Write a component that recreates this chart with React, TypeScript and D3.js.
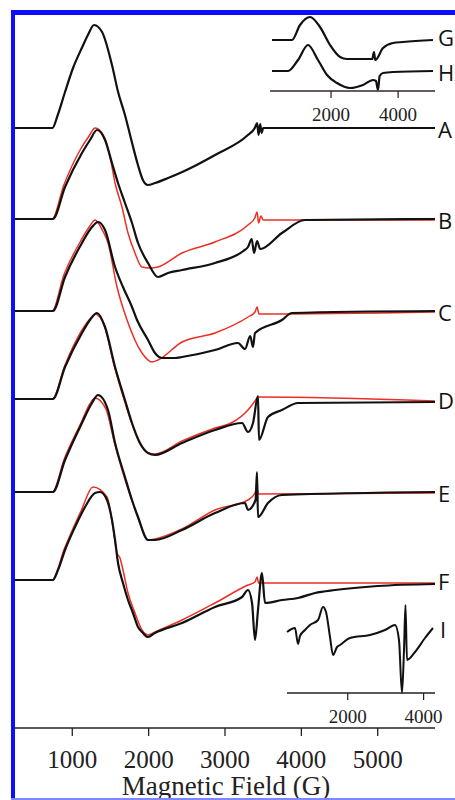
import React from 'react';
import * as d3 from 'd3';

type P = [number, number];

// ---------- axis ticks ----------
const mainTicks = [1000, 2000, 3000, 4000, 5000];
const insetTopTicks = [2000, 4000];
const insetBottomTicks = [2000, 4000];

// ---------- main spectra: [field (G), signal (a.u., 0 = own baseline)] ----------
const traceA: P[] = [[250,0],[740,0],[810,13],[905,36],[1010,60],[1125,80],[1205,93],[1285,103],[1390,96],[1520,63],[1600,36],[1690,13],[1780,-14],[1860,-37],[1925,-52],[1990,-57],[2085,-55],[2255,-50],[2440,-44],[2870,-27],[3300,-7],[3390,0],[3420,5],[3440,-7],[3460,4],[3480,-5],[3500,0],[5750,0]];

const traceBBlack: P[] = [[250,0],[745,0],[905,32],[1127,66],[1232,79],[1324,89],[1429,79],[1520,56],[1599,36],[1690,16],[1782,-4],[1861,-24],[1992,-44],[2123,-58],[2253,-54],[2437,-51],[2869,-44],[3240,-32],[3301,-28],[3350,-20],[3380,-34],[3420,-22],[3460,-30],[3746,-14],[4048,-1],[5750,0]];
const traceBRed: P[] = [[250,0],[735,0],[890,34],[1110,70],[1220,83],[1298,91],[1420,82],[1500,60],[1560,36],[1651,12],[1730,-14],[1821,-34],[1913,-48],[2018,-49],[2123,-48],[2437,-34],[2869,-23],[3301,-6],[3390,1],[3420,7],[3440,-4],[3470,3],[3500,-1],[5750,-1]];

const traceCBlack: P[] = [[250,0],[745,0],[905,34],[1127,68],[1258,84],[1337,89],[1429,81],[1560,44],[1664,24],[1782,4],[1848,-9],[1992,-29],[2083,-42],[2175,-47],[2345,-47],[2437,-46],[2869,-39],[3170,-32],[3262,-38],[3330,-25],[3367,-36],[3393,-22],[3746,-9],[3877,-2],[5750,0]];
const traceCRed: P[] = [[250,0],[735,0],[890,36],[1110,70],[1230,85],[1298,91],[1400,80],[1468,68],[1586,24],[1717,-9],[1913,-42],[2044,-51],[2123,-49],[2437,-31],[2869,-22],[3301,-6],[3393,-1],[3420,4],[3445,-3],[5750,-1]];

const traceDBlack: P[] = [[250,0],[745,0],[905,32],[1127,66],[1232,79],[1324,86],[1429,72],[1560,32],[1690,-1],[1782,-24],[1887,-44],[1992,-54],[2083,-56],[2437,-44],[2869,-31],[3223,-24],[3301,-33],[3367,-24],[3432,3],[3445,-41],[3563,-18],[3746,-11],[3956,-4],[5750,-3]];
const traceDRed: P[] = [[250,0],[740,0],[900,33],[1120,68],[1230,80],[1298,85],[1420,73],[1550,33],[1680,-1],[1782,-25],[1887,-45],[1992,-54],[2083,-55],[2437,-42],[2869,-29],[3105,-23],[3301,-11],[3393,-2],[3430,2],[5750,-2]];

const traceEBlack: P[] = [[250,0],[745,0],[905,32],[1127,69],[1258,89],[1337,97],[1468,82],[1560,49],[1690,15],[1782,-8],[1861,-25],[1992,-48],[2083,-48],[2437,-38],[2869,-21],[3262,-11],[3301,-18],[3400,-8],[3419,20],[3432,-25],[3563,-11],[3746,-3],[5750,0]];
const traceERed: P[] = [[250,0],[740,0],[895,33],[1120,70],[1230,88],[1298,94],[1440,83],[1550,50],[1680,15],[1782,-9],[1861,-26],[1992,-48],[2083,-47],[2437,-37],[2869,-18],[3301,-8],[3393,-1],[3415,4],[3440,-2],[5750,-1]];

const traceFBlack: P[] = [[250,0],[745,0],[813,10],[905,30],[1036,53],[1167,73],[1298,87],[1363,88],[1455,80],[1520,60],[1560,40],[1599,17],[1664,-3],[1730,-20],[1795,-33],[1861,-47],[1926,-53],[1992,-57],[2083,-53],[2437,-43],[2869,-27],[3223,-17],[3301,-10],[3354,-23],[3393,-60],[3432,-30],[3484,7],[3524,-23],[3746,-20],[3956,-18],[4179,-13],[4440,-10],[5000,-6],[5750,-4]];
const traceFRed: P[] = [[250,0],[735,0],[900,32],[1120,70],[1271,93],[1455,83],[1533,53],[1586,27],[1625,22],[1664,10],[1730,-13],[1821,-33],[1913,-50],[1992,-55],[2083,-52],[2437,-40],[2869,-23],[3301,-5],[3393,-2],[3420,3],[3440,-3],[5750,-3]];

// ---------- inset spectra ----------
const traceG: P[] = [[240,0],[836,0],[1075,15],[1373,23],[1671,13],[1969,-5],[2267,-17],[2476,-19],[2900,-19],[3230,-19],[3280,-12],[3320,-20],[3550,-8],[3848,-3],[4146,-2],[5040,0]];
const traceH: P[] = [[240,0],[717,0],[1015,11],[1313,26],[1611,11],[1880,-4],[2178,-12],[2566,-17],[2953,-14],[3251,-9],[3340,-10],[3400,-19],[3450,-5],[3550,-2],[3848,-1],[5040,0]];
const traceI: P[] = [[400,0],[611,4],[690,-12],[742,-4],[874,2],[1006,7],[1217,12],[1349,25],[1428,20],[1533,-5],[1612,-23],[1718,-15],[1797,-13],[2060,-6],[2587,-3],[2982,2],[3246,7],[3351,-8],[3430,-61],[3483,-18],[3522,27],[3562,-28],[3773,-20],[4036,-6],[4247,4]];

// ---------- trace stacking ----------
const mainLabels = ['A', 'B', 'C', 'D', 'E', 'F'];
const mainOffsets = [600, 509, 417, 329, 236, 148];
const mainBlack = [traceA, traceBBlack, traceCBlack, traceDBlack, traceEBlack, traceFBlack];
const mainRed: (P[] | null)[] = [null, traceBRed, traceCRed, traceDRed, traceERed, traceFRed];

const insetTopLabels = ['G', 'H'];
const insetTopOffsets = [688, 657];
const insetTopTraces = [traceG, traceH];
const insetBottomOffset = 96;

export default function App() {
  const W = 455, H = 800;
  const x = d3.scaleLinear().domain([250, 5750]).range([15, 435]);
  const y = d3.scaleLinear().domain([0, 700]).range([728, 28]);
  const xTop = d3.scaleLinear().domain([180, 5100]).range([270, 435]);
  const xBot = d3.scaleLinear().domain([400, 4300]).range([287, 435]);

  const mk = (xs: d3.ScaleLinear<number, number>, off: number) =>
    d3.line<P>().x(d => xs(d[0])).y(d => y(d[1] + off)).curve(d3.curveMonotoneX);

  const serif = '"Liberation Serif", "Times New Roman", serif';
  const sans = '"Open Sans", "Liberation Sans", Arial, sans-serif';
  const black = '#111';
  const red = '#ec2f24';
  const blue = '#0d0dff';
  const labelX = 438;
  const labelSize = 22;

  const axisTop = y(657) + 20; // inset G/H axis
  const axisBot = y(96) + 61;  // inset I axis

  return (
    <svg width={W} height={H} style={{ position: 'absolute', left: 0, top: 0, background: '#fff' }}>
      <rect x={0} y={0} width={W} height={H} fill="#fff" />
      {/* main traces */}
      {mainBlack.map((bk, i) => (
        <g key={mainLabels[i]}>
          {mainRed[i] && (
            <path d={mk(x, mainOffsets[i])(mainRed[i] as P[]) || ''} fill="none" stroke={red} strokeWidth={1.5} />
          )}
          <path d={mk(x, mainOffsets[i])(bk) || ''} fill="none" stroke={black} strokeWidth={2.2} strokeLinejoin="round" />
          <text x={labelX} y={y(mainOffsets[i]) + 10} fontFamily={sans} fontSize={labelSize} fill="#111">{mainLabels[i]}</text>
        </g>
      ))}

      {/* top inset */}
      {insetTopTraces.map((t, i) => (
        <g key={insetTopLabels[i]}>
          <path d={mk(xTop, insetTopOffsets[i])(t) || ''} fill="none" stroke={black} strokeWidth={2.2} strokeLinejoin="round" />
          <text x={labelX} y={y(insetTopOffsets[i]) + (i === 0 ? 6 : 10)} fontFamily={sans} fontSize={labelSize} fill="#111">{insetTopLabels[i]}</text>
        </g>
      ))}
      <line x1={270} x2={435} y1={axisTop} y2={axisTop} stroke="#3a2622" strokeWidth={1.3} />
      {insetTopTicks.map(t => (
        <g key={'tt' + t}>
          <line x1={xTop(t)} x2={xTop(t)} y1={axisTop} y2={axisTop + 7} stroke="#222" strokeWidth={1.2} />
          <text x={xTop(t)} y={axisTop + 30} textAnchor="middle" fontFamily={serif} fontSize={19} fill="#222">{t}</text>
        </g>
      ))}

      {/* bottom inset */}
      <path d={mk(xBot, insetBottomOffset)(traceI) || ''} fill="none" stroke={black} strokeWidth={2} strokeLinejoin="round" />
      <text x={labelX + 2} y={y(insetBottomOffset) + 6} fontFamily={sans} fontSize={labelSize} fill="#111">I</text>
      <line x1={287} x2={435} y1={axisBot} y2={axisBot} stroke="#222" strokeWidth={1.3} />
      {insetBottomTicks.map(t => (
        <g key={'bt' + t}>
          <line x1={xBot(t)} x2={xBot(t)} y1={axisBot} y2={axisBot + 7} stroke="#222" strokeWidth={1.2} />
          <text x={xBot(t)} y={axisBot + 30} textAnchor="middle" fontFamily={serif} fontSize={19} fill="#222">{t}</text>
        </g>
      ))}

      {/* main axis */}
      <line x1={15} x2={435} y1={728} y2={728} stroke="#222" strokeWidth={1.4} />
      {mainTicks.map(t => (
        <g key={'mt' + t}>
          <line x1={x(t)} x2={x(t)} y1={728} y2={736} stroke="#222" strokeWidth={1.3} />
          <text x={x(t)} y={768} textAnchor="middle" fontFamily={serif} fontSize={25} fill="#222">{t}</text>
        </g>
      ))}
      <text x={226} y={795} textAnchor="middle" fontFamily={serif} fontSize={27} fill="#222">Magnetic Field (G)</text>

      {/* blue frame */}
      <rect x={11} y={10} width={W - 11} height={5} fill={blue} />
      <rect x={11} y={10} width={4} height={H - 10} fill={blue} />
      <rect x={11} y={798} width={W - 11} height={2} fill="#7d88ff" />
    </svg>
  );
}
